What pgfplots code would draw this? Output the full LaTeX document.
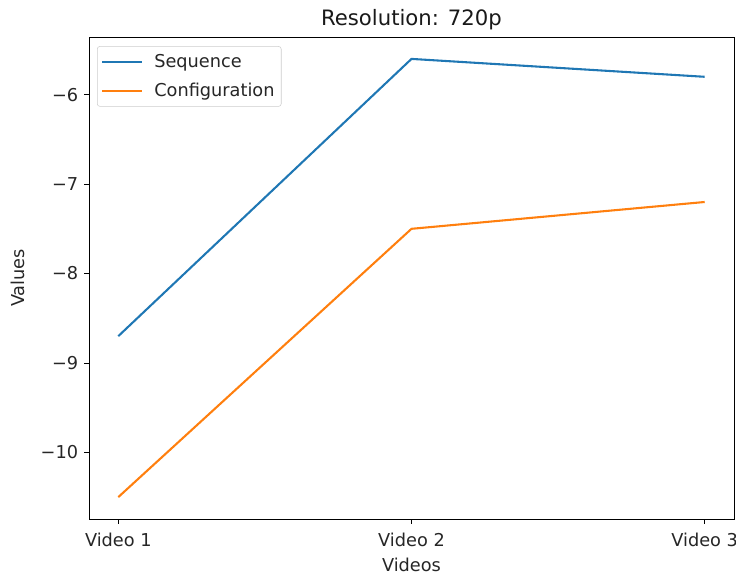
\documentclass[border=0pt]{standalone}
\usepackage{fontspec}
\setmainfont{DejaVu Sans}
\usepackage{pgfplots}
\pgfplotsset{compat=1.18}

\definecolor{tabblue}{HTML}{1F77B4}
\definecolor{taborange}{HTML}{FF7F0E}

\pgfplotsset{
  shortline legend/.style={
    legend image code/.code={%
      \path[draw=none] (0pt,0pt) -- (37pt,0pt);
      \draw[#1] (0pt,0pt) -- (30pt,0pt);}
  },
}

\begin{document}
\begin{tikzpicture}
% fixed page frame around the 483.75pt x 361.5pt plot area
\path[use as bounding box] (-66.75pt,-42pt) rectangle (485.25pt,389.25pt);
\begin{axis}[
  anchor=south west, at={(0pt,0pt)},
  scale only axis,
  width=483.75pt, height=361.5pt,
  xmin=-0.1, xmax=2.1,
  ymin=-10.745, ymax=-5.355,
  xtick={0,1,2},
  xticklabels={Video 1,Video 2,Video 3},
  ytick={-10,-9,-8,-7,-6},
  yticklabels={−10,−9,−8,−7,−6},
  tick align=outside,
  tick pos=left,
  major tick length=3.6pt,
  tick style={black, line width=0.6pt},
  axis line style={black, line width=0.6pt},
  every tick label/.append style={font=\fontsize{13.3}{15}\selectfont, text=black!85},
  xticklabel style={yshift=-3.2pt},
  yticklabel style={xshift=-1pt},
  xlabel={Videos},
  ylabel={Values},
  label style={font=\fontsize{13.3}{15}\selectfont, text=black!85},
  xlabel style={yshift=-1.5pt},
  ylabel style={yshift=5pt},
  title={Resolution: 720p},
  title style={font=\fontsize{15.9}{18}\selectfont, text=black!90, yshift=-4.5pt},
  legend cell align=left,
  legend style={
    at={(0.0124,0.981)}, anchor=north west,
    draw=black!20, rounded corners=2pt,
    font=\fontsize{13.3}{15}\selectfont,
    inner xsep=3pt, inner ysep=4pt,
    row sep=6pt,
    text=black!85,
  },
  shortline legend,
  every axis plot/.append style={line width=1.56pt, line join=round},
]
\addplot[tabblue] coordinates {(0,-8.7) (1,-5.6) (2,-5.8)};
\addlegendentry{Sequence}
\addplot[taborange] coordinates {(0,-10.5) (1,-7.5) (2,-7.2)};
\addlegendentry{Configuration}
\end{axis}
\end{tikzpicture}
\end{document}
